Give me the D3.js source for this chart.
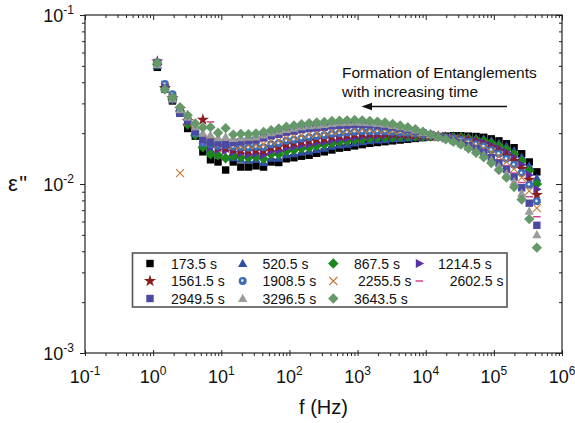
<!DOCTYPE html>
<html>
<head>
<meta charset="utf-8">
<script src="https://cdn.jsdelivr.net/npm/d3@7"></script>
<style>
  html, body { margin: 0; padding: 0; background: #fff; }
  svg { display: block; font-family: "Liberation Sans", Arial, sans-serif; }
</style>
</head>
<body>
<svg id="chart" width="575" height="423"></svg>
<script>
// Frequencies (Hz) of the sweep
const freqs = [1.151, 1.487, 1.922, 2.484, 3.211, 4.150, 5.364, 6.931, 8.959, 11.58,
  14.96, 19.34, 25.00, 32.30, 41.75, 53.95, 69.72, 90.11, 116.5, 150.5,
  194.5, 251.4, 324.9, 420.0, 542.7, 701.5, 906.5, 1172, 1514, 1957,
  2529, 3268, 4225, 5460, 7056, 9120, 11790, 15230, 19690, 25440,
  32890, 42500, 54920, 70990, 91740, 118600, 153200, 198100, 256000, 330800, 427600];

// Dielectric loss e'' for each elapsed time
const eps173 = [0.0490, 0.0365, 0.0310, 0.0262, 0.0213, 0.0192, 0.0155, 0.0139, 0.0135, 0.0121,
  0.0135, 0.0126, 0.0126, 0.0128, 0.0126, 0.0135, 0.0134, 0.0141, 0.0143, 0.0146,
  0.0148, 0.0152, 0.0155, 0.0159, 0.0163, 0.0165, 0.0168, 0.0171, 0.0174, 0.0176,
  0.0178, 0.0180, 0.0182, 0.0184, 0.0186, 0.0188, 0.0190, 0.0191, 0.0192, 0.0193,
  0.0193, 0.0192, 0.0191, 0.0189, 0.0185, 0.0180, 0.0173, 0.0164, 0.0151, 0.0135, 0.0118];
const eps520 = [0.0500, 0.0380, 0.0325, 0.0275, 0.0230, 0.0200, 0.0170, 0.0160, 0.0150, 0.0145,
  0.0143, 0.0140, 0.0138, 0.0140, 0.0134, 0.0142, 0.0142, 0.0149, 0.0151, 0.0154,
  0.0156, 0.0160, 0.0163, 0.0167, 0.0170, 0.0172, 0.0175, 0.0178, 0.0180, 0.0182,
  0.0183, 0.0185, 0.0186, 0.0187, 0.0189, 0.0190, 0.0191, 0.0191, 0.0191, 0.0192,
  0.0191, 0.0189, 0.0187, 0.0185, 0.0180, 0.0174, 0.0167, 0.0157, 0.0144, 0.0128, 0.0108];
const eps867 = [0.0510, 0.0375, 0.0318, 0.0270, 0.0225, 0.0195, 0.0165, 0.0150, 0.0148, 0.0142,
  0.0147, 0.0144, 0.0143, 0.0145, 0.0141, 0.0150, 0.0150, 0.0156, 0.0159, 0.0162,
  0.0164, 0.0168, 0.0171, 0.0174, 0.0178, 0.0180, 0.0182, 0.0184, 0.0186, 0.0188,
  0.0189, 0.0189, 0.0190, 0.0191, 0.0191, 0.0191, 0.0191, 0.0191, 0.0190, 0.0190,
  0.0189, 0.0186, 0.0183, 0.0180, 0.0175, 0.0168, 0.0160, 0.0150, 0.0137, 0.0120, 0.0100];
const eps1214 = [0.0520, 0.0385, 0.0330, 0.0265, 0.0238, 0.0205, 0.0178, 0.0165, 0.0160, 0.0158,
  0.0155, 0.0152, 0.0150, 0.0152, 0.0149, 0.0157, 0.0158, 0.0164, 0.0167, 0.0170,
  0.0172, 0.0176, 0.0178, 0.0182, 0.0185, 0.0187, 0.0189, 0.0191, 0.0193, 0.0193,
  0.0194, 0.0194, 0.0194, 0.0194, 0.0194, 0.0193, 0.0192, 0.0191, 0.0190, 0.0189,
  0.0186, 0.0183, 0.0180, 0.0176, 0.0169, 0.0162, 0.0154, 0.0144, 0.0130, 0.0113, 0.0093];
const eps1561 = [0.0530, 0.0370, 0.0322, 0.0278, 0.0235, 0.0210, 0.0240, 0.0182, 0.0165, 0.0163,
  0.0160, 0.0158, 0.0157, 0.0158, 0.0157, 0.0164, 0.0166, 0.0172, 0.0175, 0.0178,
  0.0180, 0.0184, 0.0186, 0.0190, 0.0193, 0.0194, 0.0196, 0.0198, 0.0199, 0.0199,
  0.0199, 0.0199, 0.0198, 0.0197, 0.0196, 0.0194, 0.0193, 0.0191, 0.0189, 0.0187,
  0.0184, 0.0180, 0.0176, 0.0171, 0.0164, 0.0156, 0.0147, 0.0137, 0.0123, 0.0106, 0.0086];
const eps1908 = [0.0525, 0.0390, 0.0340, 0.0272, 0.0240, 0.0200, 0.0174, 0.0172, 0.0168, 0.0170,
  0.0166, 0.0165, 0.0164, 0.0166, 0.0165, 0.0172, 0.0174, 0.0180, 0.0183, 0.0186,
  0.0189, 0.0192, 0.0194, 0.0198, 0.0200, 0.0202, 0.0204, 0.0205, 0.0205, 0.0205,
  0.0205, 0.0204, 0.0202, 0.0201, 0.0199, 0.0196, 0.0194, 0.0191, 0.0188, 0.0186,
  0.0182, 0.0177, 0.0172, 0.0167, 0.0159, 0.0151, 0.0141, 0.0130, 0.0116, 0.0099, 0.0079];
const eps2255 = [0.0515, 0.0375, 0.0320, 0.0116, 0.0232, 0.0208, 0.0185, 0.0178, 0.0172, 0.0175,
  0.0170, 0.0168, 0.0170, 0.0171, 0.0172, 0.0179, 0.0181, 0.0187, 0.0190, 0.0194,
  0.0197, 0.0199, 0.0202, 0.0205, 0.0207, 0.0209, 0.0211, 0.0211, 0.0211, 0.0211,
  0.0210, 0.0208, 0.0206, 0.0204, 0.0201, 0.0198, 0.0194, 0.0190, 0.0187, 0.0184,
  0.0180, 0.0174, 0.0168, 0.0162, 0.0154, 0.0145, 0.0135, 0.0123, 0.0109, 0.0091, 0.0072];
const eps2602 = [0.0535, 0.0380, 0.0328, 0.0280, 0.0245, 0.0215, 0.0190, 0.0233, 0.0180, 0.0178,
  0.0174, 0.0172, 0.0175, 0.0176, 0.0180, 0.0186, 0.0189, 0.0195, 0.0198, 0.0202,
  0.0205, 0.0207, 0.0210, 0.0213, 0.0215, 0.0216, 0.0218, 0.0218, 0.0217, 0.0217,
  0.0215, 0.0213, 0.0210, 0.0207, 0.0204, 0.0199, 0.0195, 0.0190, 0.0186, 0.0183,
  0.0178, 0.0171, 0.0164, 0.0158, 0.0149, 0.0139, 0.0128, 0.0116, 0.0102, 0.0084, 0.0064];
const eps2949 = [0.0520, 0.0372, 0.0315, 0.0262, 0.0236, 0.0205, 0.0182, 0.0176, 0.0175, 0.0172,
  0.0176, 0.0178, 0.0180, 0.0182, 0.0188, 0.0193, 0.0197, 0.0203, 0.0206, 0.0210,
  0.0213, 0.0215, 0.0217, 0.0221, 0.0222, 0.0223, 0.0225, 0.0225, 0.0224, 0.0222,
  0.0220, 0.0218, 0.0214, 0.0210, 0.0206, 0.0201, 0.0196, 0.0190, 0.0186, 0.0181,
  0.0175, 0.0168, 0.0161, 0.0153, 0.0143, 0.0133, 0.0122, 0.0110, 0.0095, 0.0077, 0.0057];
const eps3296 = [0.0510, 0.0368, 0.0320, 0.0275, 0.0248, 0.0218, 0.0200, 0.0195, 0.0188, 0.0190,
  0.0186, 0.0188, 0.0189, 0.0190, 0.0195, 0.0201, 0.0205, 0.0210, 0.0214, 0.0218,
  0.0221, 0.0223, 0.0225, 0.0228, 0.0230, 0.0231, 0.0232, 0.0231, 0.0230, 0.0228,
  0.0226, 0.0222, 0.0218, 0.0214, 0.0209, 0.0202, 0.0196, 0.0190, 0.0185, 0.0180,
  0.0173, 0.0165, 0.0157, 0.0149, 0.0138, 0.0127, 0.0115, 0.0103, 0.0088, 0.0069, 0.0050];
const eps3643 = [0.0520, 0.0362, 0.0325, 0.0285, 0.0255, 0.0228, 0.0216, 0.0217, 0.0201, 0.0214,
  0.0196, 0.0198, 0.0197, 0.0199, 0.0203, 0.0208, 0.0213, 0.0218, 0.0222, 0.0226,
  0.0229, 0.0231, 0.0233, 0.0236, 0.0237, 0.0238, 0.0239, 0.0238, 0.0236, 0.0234,
  0.0231, 0.0227, 0.0222, 0.0217, 0.0211, 0.0204, 0.0197, 0.0190, 0.0184, 0.0178,
  0.0171, 0.0162, 0.0153, 0.0144, 0.0133, 0.0121, 0.0109, 0.0096, 0.0081, 0.0062, 0.0042];

const legendLabels = ['173.5 s', '520.5 s', '867.5 s', '1214.5 s', '1561.5 s', '1908.5 s',
  ' 2255.5 s', '   2602.5 s', '2949.5 s', '3296.5 s', '3643.5 s'];
const xTickExps = [-1, 0, 1, 2, 3, 4, 5, 6];
const yTickExps = [-3, -2, -1];
const noteLines = ['Formation of Entanglements', 'with increasing time'];

// marker look per series (same order as the legend)
const styles = [
  { shape: 'square', color: '#000000' },
  { shape: 'triUp', color: '#2f4ea6' },
  { shape: 'diamond', color: '#1b861b' },
  { shape: 'triRight', color: '#5a2fa8' },
  { shape: 'star', color: '#8a1c1c' },
  { shape: 'ball', color: '#3c6db5' },
  { shape: 'x', color: '#c07a35' },
  { shape: 'dash', color: '#d2458a' },
  { shape: 'square', color: '#4a4aa2' },
  { shape: 'triUp', color: '#9b9b9b' },
  { shape: 'diamond', color: '#66996a' }
];
const allValues = [eps173, eps520, eps867, eps1214, eps1561, eps1908,
  eps2255, eps2602, eps2949, eps3296, eps3643];

const W = 575, H = 423;
const margin = { top: 15, right: 13, bottom: 70, left: 85 };
const svg = d3.select('#chart');

const x = d3.scaleLog().domain([0.1, 1e6]).range([margin.left, W - margin.right]);
const y = d3.scaleLog().domain([1e-3, 1e-1]).range([H - margin.bottom, margin.top]);
const x0 = margin.left, x1 = W - margin.right, y0 = H - margin.bottom, y1 = margin.top;

const xMajor = xTickExps.map(e => Math.pow(10, e));
const yMajor = yTickExps.map(e => Math.pow(10, e));
const minorOf = majors => majors.slice(0, -1).flatMap(m => d3.range(2, 10).map(k => k * m));
const xMinor = minorOf(xMajor);
const yMinor = minorOf(yMajor);

function tickAxis(axis, values, size, tx, ty) {
  svg.append('g')
    .attr('transform', `translate(${tx},${ty})`)
    .call(axis.tickValues(values).tickSize(size).tickSizeOuter(0).tickFormat(''))
    .call(g => g.select('.domain').remove())
    .call(g => g.selectAll('line').attr('stroke', '#222').attr('stroke-width', 1));
}
// bottom: majors cross the axis, minors outward
tickAxis(d3.axisBottom(x), xMajor, 3, 0, y0);
tickAxis(d3.axisTop(x), xMajor, 3, 0, y0);
tickAxis(d3.axisBottom(x), xMinor, 3, 0, y0);
// top: inward
tickAxis(d3.axisBottom(x), xMajor, 5, 0, y1);
tickAxis(d3.axisBottom(x), xMinor, 3, 0, y1);
// left: outward
tickAxis(d3.axisLeft(y), yMajor, 5, x0, 0);
tickAxis(d3.axisLeft(y), yMinor, 3, x0, 0);
// right: inward
tickAxis(d3.axisLeft(y), yMajor, 6, x1, 0);
tickAxis(d3.axisLeft(y), yMinor, 3, x1, 0);

svg.append('rect')
  .attr('x', x0).attr('y', y1)
  .attr('width', x1 - x0).attr('height', y0 - y1)
  .attr('fill', 'none').attr('stroke', '#222').attr('stroke-width', 1.2);

// power-of-ten tick labels
xTickExps.forEach((e, i) => {
  const t = svg.append('text')
    .attr('x', x(xMajor[i])).attr('y', 383)
    .attr('text-anchor', 'middle')
    .attr('font-size', 18).attr('fill', '#111');
  t.append('tspan').text('10');
  t.append('tspan').attr('dy', -8).attr('font-size', 12).text(e);
});
yTickExps.forEach((e, i) => {
  const t = svg.append('text')
    .attr('x', 74).attr('y', y(yMajor[i]) + 7)
    .attr('text-anchor', 'end')
    .attr('font-size', 18).attr('fill', '#111');
  t.append('tspan').text('10');
  t.append('tspan').attr('dy', -8).attr('font-size', 12).text(e);
});

svg.append('text')
  .attr('x', (x0 + x1) / 2).attr('y', 414)
  .attr('text-anchor', 'middle')
  .attr('font-size', 20).attr('fill', '#111')
  .text('f (Hz)');
svg.append('text')
  .attr('x', 8).attr('y', 191)
  .attr('font-size', 22).attr('letter-spacing', 1.5).attr('fill', '#111')
  .text('ε"');

// marker drawing
function drawMarker(g, shape, color) {
  switch (shape) {
    case 'square':
      g.append('rect').attr('x', -3.7).attr('y', -3.7).attr('width', 7.4).attr('height', 7.4).attr('fill', color);
      break;
    case 'diamond':
      g.append('path').attr('d', 'M0,-5.2L5.2,0L0,5.2L-5.2,0Z').attr('fill', color);
      break;
    case 'triUp':
      g.append('path').attr('d', 'M0,-4.8L4.6,3.5L-4.6,3.5Z').attr('fill', color);
      break;
    case 'triRight':
      g.append('path').attr('d', 'M4.8,0L-3.5,4.6L-3.5,-4.6Z').attr('fill', color);
      break;
    case 'star':
      g.append('path').attr('d', d3.symbol(d3.symbolStar, 46)()).attr('fill', color);
      break;
    case 'ball':
      g.append('circle').attr('r', 4).attr('fill', color);
      g.append('circle').attr('r', 1.3).attr('cx', -0.4).attr('cy', -0.4).attr('fill', '#e8eef8');
      break;
    case 'x':
      g.append('path').attr('d', 'M-4,-4L4,4M-4,4L4,-4')
        .attr('stroke', color).attr('stroke-width', 1.1).attr('fill', 'none');
      break;
    case 'dash':
      g.append('path').attr('d', 'M-3.8,0L3.8,0')
        .attr('stroke', color).attr('stroke-width', 1.5).attr('fill', 'none');
      break;
  }
}

const plot = svg.append('g');
allValues.forEach((vals, si) => {
  const st = styles[si];
  const pts = vals.map((v, i) => ({ f: freqs[i], v }));
  plot.append('g').selectAll('g').data(pts).enter().append('g')
    .attr('transform', d => `translate(${x(d.f)},${y(d.v)})`)
    .each(function () { drawMarker(d3.select(this), st.shape, st.color); });
});

// annotation
noteLines.forEach((line, i) => {
  svg.append('text')
    .attr('x', 342).attr('y', 78 + i * 18.5)
    .attr('font-size', 15.5).attr('fill', '#111')
    .text(line);
});
svg.append('line')
  .attr('x1', 507).attr('x2', 371).attr('y1', 106.5).attr('y2', 106.5)
  .attr('stroke', '#111').attr('stroke-width', 1.6);
svg.append('path')
  .attr('d', 'M361.5,106.5L372,102.8L372,110.2Z')
  .attr('fill', '#111');

// legend
const legend = svg.append('g');
legend.append('rect')
  .attr('x', 132.5).attr('y', 253).attr('width', 374.5).attr('height', 54)
  .attr('fill', '#fff').attr('stroke', '#555').attr('stroke-width', 1.6);
const colMarker = [150, 242.7, 333.3, 419.3];
const colText = [171, 262.5, 354, 438];
const rowY = [263.5, 281, 298.5];
legendLabels.forEach((lab, i) => {
  const r = Math.floor(i / 4), c = i % 4;
  const g = legend.append('g').attr('transform', `translate(${colMarker[c]},${rowY[r]})`);
  drawMarker(g, styles[i].shape, styles[i].color);
  legend.append('text')
    .attr('x', colText[c]).attr('y', rowY[r] + 5)
    .attr('font-size', 14).attr('fill', '#111')
    .style('white-space', 'pre')
    .text(lab);
});
</script>
</body>
</html>
